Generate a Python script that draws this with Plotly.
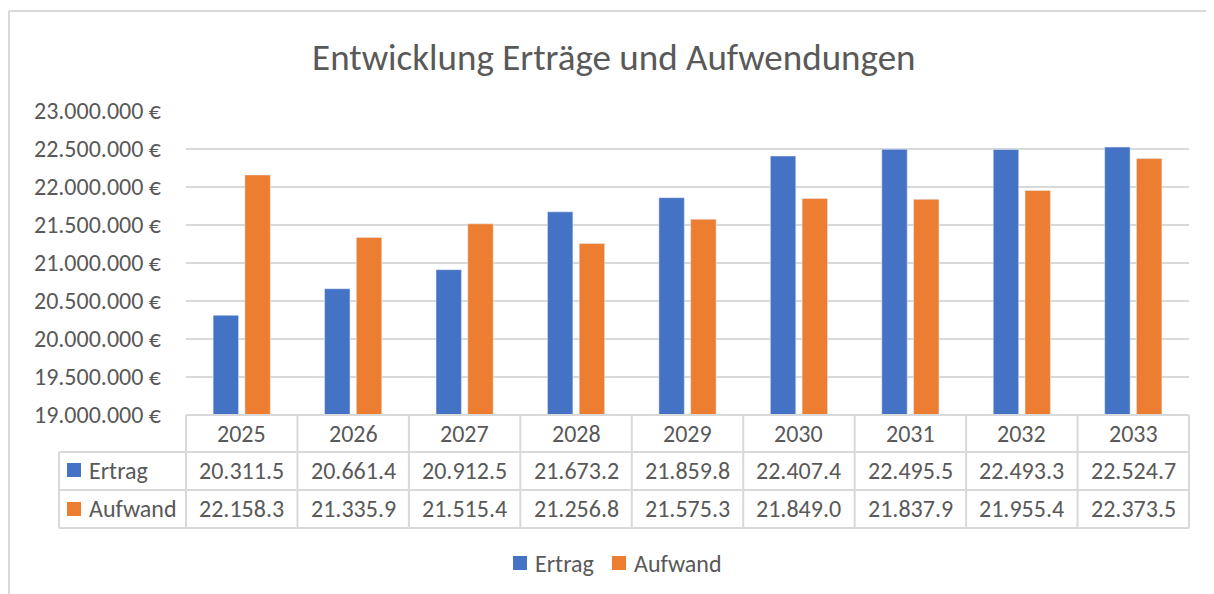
import plotly.graph_objects as go

jahre = ['2025', '2026', '2027', '2028', '2029', '2030', '2031', '2032', '2033']
ertrag_tsd = [20311.5, 20661.4, 20912.5, 21673.2, 21859.8, 22407.4, 22495.5, 22493.3, 22524.7]
aufwand_tsd = [22158.3, 21335.9, 21515.4, 21256.8, 21575.3, 21849.0, 21837.9, 21955.4, 22373.5]
ertrag_text = ['20.311.5', '20.661.4', '20.912.5', '21.673.2', '21.859.8',
               '22.407.4', '22.495.5', '22.493.3', '22.524.7']
aufwand_text = ['22.158.3', '21.335.9', '21.515.4', '21.256.8', '21.575.3',
                '21.849.0', '21.837.9', '21.955.4', '22.373.5']
serien = ['Ertrag', 'Aufwand']

BLAU = '#4472C4'
ORANGE = '#ED7D31'
GRAU = '#595959'
LINIE = '#D9D9D9'
FONT = 'Carlito, Open Sans, sans-serif'

fig = go.Figure()
fig.add_trace(go.Bar(x=jahre, y=[v * 1000 for v in ertrag_tsd], name=serien[0],
                     marker=dict(color=BLAU), showlegend=False))
fig.add_trace(go.Bar(x=jahre, y=[v * 1000 for v in aufwand_tsd], name=serien[1],
                     marker=dict(color=ORANGE), showlegend=False))

# Datentabelle unter der Achse (Offsets in Pixel relativ zum Plotbereich)
plot_h = 304.0
plot_w = 1003.0


def py(px_offset):
    # Pixel unterhalb der x-Achse -> paper y
    return -px_offset / plot_h


def pxr(px_offset):
    # Pixel rechts vom linken Plotrand -> paper x
    return px_offset / plot_w


shapes = []
# horizontale Linien
shapes.append(dict(type='line', xref='paper', yref='paper', x0=0, x1=1, y0=0, y1=0,
                   line=dict(color=LINIE, width=2)))
for off in [37, 75, 113]:
    shapes.append(dict(type='line', xref='paper', yref='paper', x0=pxr(-127), x1=1,
                       y0=py(off), y1=py(off), line=dict(color=LINIE, width=2)))
# vertikale Linien
for k in range(len(jahre) + 1):
    shapes.append(dict(type='line', xref='paper', yref='paper', x0=k / len(jahre), x1=k / len(jahre),
                       y0=0, y1=py(113), line=dict(color=LINIE, width=2)))
shapes.append(dict(type='line', xref='paper', yref='paper', x0=pxr(-127), x1=pxr(-127),
                   y0=py(37), y1=py(113), line=dict(color=LINIE, width=2)))
# Legendensymbole in der Tabelle
for row, col in [(55, BLAU), (94, ORANGE)]:
    shapes.append(dict(type='rect', xref='paper', yref='paper', x0=pxr(-119), x1=pxr(-105),
                       y0=py(row - 7), y1=py(row + 7), fillcolor=col, line=dict(width=0)))
# Legende unten
for x0, col in [(327, BLAU), (426, ORANGE)]:
    shapes.append(dict(type='rect', xref='paper', yref='paper', x0=pxr(x0), x1=pxr(x0 + 14),
                       y0=py(141), y1=py(155), fillcolor=col, line=dict(width=0)))
# Rahmen des Diagrammbereichs
shapes.append(dict(type='line', xref='paper', yref='paper', x0=pxr(-177), x1=pxr(-177),
                   y0=py(-404), y1=py(200), line=dict(color=LINIE, width=2)))
shapes.append(dict(type='line', xref='paper', yref='paper', x0=pxr(-177), x1=pxr(1100),
                   y0=py(-404), y1=py(-404), line=dict(color=LINIE, width=2)))

annotations = []
cell_font = dict(family=FONT, size=24, color=GRAU)
for i, j in enumerate(jahre):
    annotations.append(dict(x=i, y=py(18), xref='x', yref='paper', text=j, yanchor='middle',
                            showarrow=False, font=cell_font))
    annotations.append(dict(x=i, y=py(55), xref='x', yref='paper', text=ertrag_text[i],
                            yanchor='middle', showarrow=False, font=cell_font))
    annotations.append(dict(x=i, y=py(93), xref='x', yref='paper', text=aufwand_text[i],
                            yanchor='middle', showarrow=False, font=cell_font))
annotations.append(dict(x=pxr(-99), y=py(55), xref='paper', yref='paper', text=serien[0],
                        xanchor='left', yanchor='middle', showarrow=False, font=cell_font))
annotations.append(dict(x=pxr(-99), y=py(93), xref='paper', yref='paper', text=serien[1],
                        xanchor='left', yanchor='middle', showarrow=False, font=cell_font))
annotations.append(dict(x=pxr(347), y=py(148), xref='paper', yref='paper', text=serien[0],
                        xanchor='left', yanchor='middle', showarrow=False, font=cell_font))
annotations.append(dict(x=pxr(446), y=py(148), xref='paper', yref='paper', text=serien[1],
                        xanchor='left', yanchor='middle', showarrow=False, font=cell_font))

fig.update_layout(
    width=1214, height=594,
    margin=dict(l=178, r=33, t=103, b=187),
    paper_bgcolor='white', plot_bgcolor='white',
    separators=',.',
    font=dict(family=FONT, color=GRAU),
    title=dict(text='Entwicklung Erträge und Aufwendungen', x=0.499, xanchor='center',
               y=0.9175, yanchor='middle', font=dict(family=FONT, size=37, color=GRAU)),
    barmode='group', bargap=0.43, bargroupgap=0.2,
    showlegend=False,
    xaxis=dict(type='category', range=[-0.5, len(jahre) - 0.5], autorange=False,
               showticklabels=False, showgrid=False, showline=False,
               zeroline=False, fixedrange=True),
    yaxis=dict(range=[19000000, 23000000], dtick=500000, tickformat=',.0f', ticksuffix=' €',
               showgrid=True, gridcolor=LINIE, gridwidth=2, zeroline=False, showline=False,
               tickfont=dict(family=FONT, size=24, color=GRAU), ticklabelstandoff=24),
    shapes=shapes,
    annotations=annotations,
)

fig.write_html('out.html')
